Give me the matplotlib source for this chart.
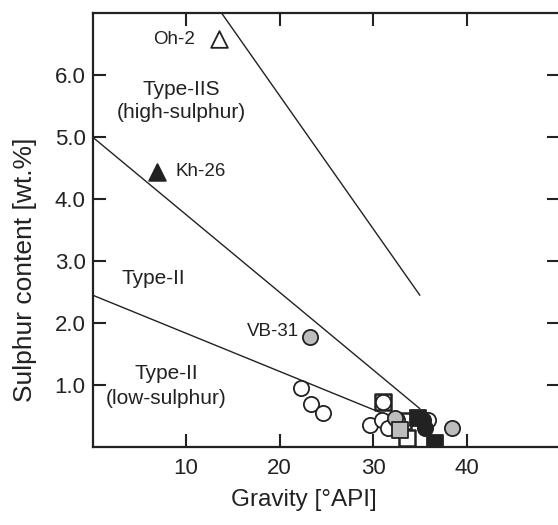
import matplotlib
matplotlib.use("Agg")
import matplotlib.pyplot as plt

plt.rcParams['font.family'] = ['Liberation Sans', 'DejaVu Sans']

# boundary lines (gravity, sulphur)
steep_x = [13.8, 35.0]
steep_y = [7.0, 2.45]
mid_x = [0.0, 35.0]
mid_y = [5.0, 0.62]
low_x = [0.0, 33.0]
low_y = [2.45, 0.42]

# samples
open_circ_x = [22.3, 23.4, 24.7, 29.7, 31.0, 31.6, 32.6, 35.9, 31.1]
open_circ_y = [0.95, 0.70, 0.55, 0.35, 0.44, 0.30, 0.44, 0.44, 0.73]
gray_circ_x = [23.3, 32.3, 38.4]
gray_circ_y = [1.77, 0.46, 0.30]
black_circ_x = [35.4, 35.6]
black_circ_y = [0.44, 0.30]
open_sq_x = [31.1, 33.2, 33.6]
open_sq_y = [0.73, 0.42, 0.15]
gray_sq_x = [32.9]
gray_sq_y = [0.27]
black_sq_x = [34.8, 36.6]
black_sq_y = [0.46, 0.06]
open_tri_x = [13.5]
open_tri_y = [6.58]
black_tri_x = [6.9]
black_tri_y = [4.44]

x_ticks = [10, 20, 30, 40]
y_ticks = [1.0, 2.0, 3.0, 4.0, 5.0, 6.0]

fig = plt.figure(figsize=(5.58, 5.25), dpi=100)
ax = fig.add_axes([92.5 / 558, 78 / 525, (560 - 92.5) / 558, 434 / 525])

lc = '#222222'
ax.plot(steep_x, steep_y, color=lc, lw=1.0, zorder=2)
ax.plot(mid_x, mid_y, color=lc, lw=1.0, zorder=2)
ax.plot(low_x, low_y, color=lc, lw=1.0, zorder=2)

ms = 120
ew = 1.3
gray = '#bdbdbd'
ax.scatter(open_sq_x, open_sq_y, s=ms * 1.1, marker='s', facecolor='white', edgecolor=lc, linewidth=ew + 0.5, zorder=3)
ax.scatter(open_circ_x, open_circ_y, s=ms, marker='o', facecolor='white', edgecolor=lc, linewidth=ew, zorder=4)
ax.scatter(gray_circ_x, gray_circ_y, s=ms, marker='o', facecolor=gray, edgecolor=lc, linewidth=ew, zorder=4)
ax.scatter(gray_sq_x, gray_sq_y, s=ms * 1.1, marker='s', facecolor=gray, edgecolor=lc, linewidth=ew, zorder=5)
ax.scatter(black_sq_x, black_sq_y, s=ms * 1.1, marker='s', facecolor=lc, edgecolor=lc, linewidth=ew, zorder=5)
ax.scatter(black_circ_x, black_circ_y, s=ms, marker='o', facecolor=lc, edgecolor=lc, linewidth=ew, zorder=5)
ax.scatter(open_tri_x, open_tri_y, s=ms * 1.2, marker='^', facecolor='white', edgecolor=lc, linewidth=ew, zorder=4)
ax.scatter(black_tri_x, black_tri_y, s=ms * 1.2, marker='^', facecolor=lc, edgecolor=lc, linewidth=ew, zorder=4)

fs = 15
tc = '#222222'
ax.text(11.0, 6.58, 'Oh-2', ha='right', va='center', fontsize=13.5, color=tc)
ax.text(8.9, 4.44, 'Kh-26', ha='left', va='center', fontsize=13.5, color=tc)
ax.text(22.1, 1.86, 'VB-31', ha='right', va='center', fontsize=13.5, color=tc)
ax.text(9.5, 5.76, 'Type-IIS', ha='center', va='center', fontsize=fs, color=tc)
ax.text(9.5, 5.39, '(high-sulphur)', ha='center', va='center', fontsize=fs, color=tc)
ax.text(6.5, 2.72, 'Type-II', ha='center', va='center', fontsize=fs, color=tc)
ax.text(7.9, 1.19, 'Type-II', ha='center', va='center', fontsize=fs, color=tc)
ax.text(7.9, 0.79, '(low-sulphur)', ha='center', va='center', fontsize=fs, color=tc)

ax.set_xlim(0, 50)
ax.set_ylim(0, 7)
ax.set_xticks(x_ticks)
ax.set_yticks(y_ticks)
ax.set_xticklabels([str(t) for t in x_ticks])
ax.set_yticklabels(['{:.1f}'.format(t) for t in y_ticks])
ax.tick_params(direction='in', length=9.5, width=1.5, top=True, right=True,
               labelsize=16, colors=tc)
ax.tick_params(axis='x', pad=8)
ax.tick_params(axis='y', pad=5)
for sp in ax.spines.values():
    sp.set_linewidth(1.6)
    sp.set_color(tc)

fig.text(304 / 558, 1 - 500 / 525, 'Gravity [°API]', ha='center', va='center', fontsize=17.5, color=tc)
fig.text(25 / 558, 1 - 270 / 525, 'Sulphur content [wt.%]', ha='center', va='center',
         rotation=90, fontsize=19, color=tc)

fig.savefig('out.png', dpi=100)
